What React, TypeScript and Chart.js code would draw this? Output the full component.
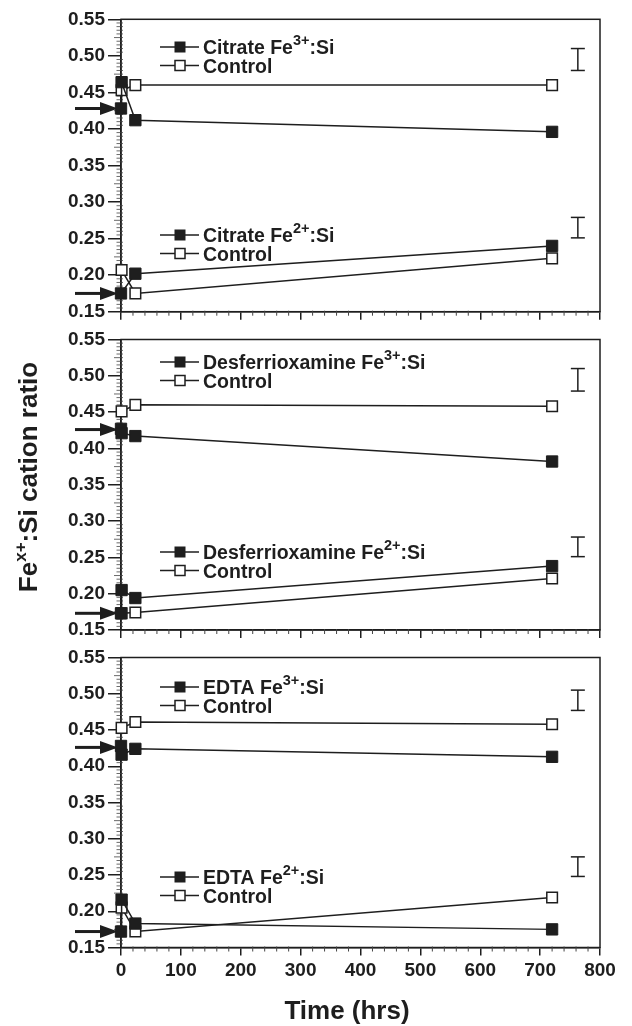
import React, { useEffect, useRef } from "react";
import { Chart, registerables } from "chart.js";

Chart.register(...registerables);

// ---------- data ----------
const TIMES = [0, 1, 24, 720]; // hrs (initial, ~1 h, 24 h, 720 h)
const CHELATORS = ["Citrate", "Desferrioxamine", "EDTA"];

const citrateFe3 = [0.428, 0.464, 0.412, 0.396];
const citrateFe3Control = [null, 0.453, 0.46, 0.46];
const citrateFe2 = [0.175, null, 0.202, 0.24];
const citrateFe2Control = [null, 0.207, 0.175, 0.223];

const desferFe3 = [0.427, 0.421, 0.417, 0.382];
const desferFe3Control = [null, 0.451, 0.46, 0.458];
const desferFe2 = [0.173, 0.205, 0.194, 0.238];
const desferFe2Control = [null, 0.173, 0.174, 0.221];

const edtaFe3 = [0.428, 0.416, 0.424, 0.413];
const edtaFe3Control = [null, 0.453, 0.461, 0.458];
const edtaFe2 = [0.172, 0.216, 0.183, 0.175];
const edtaFe2Control = [null, 0.205, 0.172, 0.219];

const INITIAL_FE3 = [0.428, 0.426, 0.426];
const INITIAL_FE2 = [0.175, 0.173, 0.172];

const ERR_X = 763;
const ERR_FE3 = [
  [0.48, 0.51],
  [0.479, 0.51],
  [0.477, 0.505],
];
const ERR_FE2 = [
  [0.251, 0.279],
  [0.251, 0.278],
  [0.248, 0.275],
];

const X_TICKS = [0, 100, 200, 300, 400, 500, 600, 700, 800];
const Y_TICK_LABELS = ["0.15", "0.20", "0.25", "0.30", "0.35", "0.40", "0.45", "0.50", "0.55"];

const PANEL_SERIES = [
  [citrateFe3, citrateFe3Control, citrateFe2, citrateFe2Control],
  [desferFe3, desferFe3Control, desferFe2, desferFe2Control],
  [edtaFe3, edtaFe3Control, edtaFe2, edtaFe2Control],
];

// ---------- layout ----------
const W = 632;
const H = 1026;
const PANEL_TOP = [19.3, 339.5, 657.5];
const PANEL_BOTTOM = [311.7, 630, 947.5];
const X_AXIS_BOX = [20, 20, 60];
const LEGEND_OFFSETS = [
  [27.7, 215.7],
  [22.5, 212.5],
  [29.5, 219.5],
];

const FONT = '"Liberation Sans", Arial, Helvetica, sans-serif';
const INK = "#1e1e1e";

type Part = { text: string; size: number; raise?: number };

function drawRich(ctx: CanvasRenderingContext2D, parts: Part[], x: number, y: number) {
  let cx = x;
  for (const p of parts) {
    ctx.font = `bold ${p.size}px ${FONT}`;
    ctx.fillText(p.text, cx, y - (p.raise || 0));
    cx += ctx.measureText(p.text).width;
  }
}
function richWidth(ctx: CanvasRenderingContext2D, parts: Part[]) {
  let w = 0;
  for (const p of parts) {
    ctx.font = `bold ${p.size}px ${FONT}`;
    w += ctx.measureText(p.text).width;
  }
  return w;
}

const decorPlugin = {
  id: "panelDecor",
  beforeDatasetsDraw(chart: any, _args: any, opts: any) {
    const { ctx, chartArea: a, scales } = chart;
    const xs = scales.x;
    const ys = scales.y;
    ctx.save();
    ctx.strokeStyle = INK;
    ctx.lineWidth = 1.5;
    ctx.strokeRect(a.left, a.top, a.right - a.left, a.bottom - a.top);
    // minor ticks
    ctx.lineWidth = 0.8;
    ctx.strokeStyle = "#444444";
    for (let i = 0; i <= 80; i++) {
      if (i % 10 === 0) continue;
      const py = ys.getPixelForValue(0.15 + i * 0.005);
      const len = i % 5 === 0 ? 7 : 4.5;
      ctx.beginPath();
      ctx.moveTo(a.left - len, py);
      ctx.lineTo(a.left + 2, py);
      ctx.stroke();
    }
    ctx.lineWidth = 1;
    for (let v = 20; v < 800; v += 20) {
      if (v % 100 === 0) continue;
      const px = xs.getPixelForValue(v);
      ctx.beginPath();
      ctx.moveTo(px, a.bottom - 1);
      ctx.lineTo(px, a.bottom + 4);
      ctx.stroke();
    }
    // arrows marking initial ratios
    ctx.strokeStyle = INK;
    ctx.fillStyle = INK;
    for (const v of opts.arrows as number[]) {
      const py = ys.getPixelForValue(v);
      ctx.lineWidth = 3;
      ctx.beginPath();
      ctx.moveTo(a.left - 46, py);
      ctx.lineTo(a.left - 16, py);
      ctx.stroke();
      ctx.beginPath();
      ctx.moveTo(a.left - 3, py);
      ctx.lineTo(a.left - 21, py - 6.5);
      ctx.lineTo(a.left - 21, py + 6.5);
      ctx.closePath();
      ctx.fill();
    }
    ctx.restore();
  },
  afterDatasetsDraw(chart: any, _args: any, opts: any) {
    const { ctx, chartArea: a } = chart;
    ctx.save();
    ctx.fillStyle = INK;
    ctx.strokeStyle = INK;
    ctx.textAlign = "left";
    ctx.textBaseline = "alphabetic";
    const name = opts.chelator as string;
    const blocks = [
      { off: opts.legend[0], ion: "3+" },
      { off: opts.legend[1], ion: "2+" },
    ];
    for (const b of blocks) {
      const rows = [
        { y: a.top + b.off, filled: true, parts: [
          { text: `${name} Fe`, size: 19.5 },
          { text: b.ion, size: 14.5, raise: 9.5 },
          { text: ":Si", size: 19.5 },
        ] },
        { y: a.top + b.off + 18.5, filled: false, parts: [{ text: "Control", size: 19.5 }] },
      ];
      for (const r of rows) {
        ctx.lineWidth = 1.5;
        ctx.beginPath();
        ctx.moveTo(a.left + 39, r.y);
        ctx.lineTo(a.left + 78, r.y);
        ctx.stroke();
        const mx = a.left + 59;
        if (r.filled) {
          ctx.fillRect(mx - 5.5, r.y - 5.5, 11, 11);
        } else {
          ctx.fillStyle = "#ffffff";
          ctx.fillRect(mx - 5, r.y - 5, 10, 10);
          ctx.strokeRect(mx - 5, r.y - 5, 10, 10);
          ctx.fillStyle = INK;
        }
        drawRich(ctx, r.parts, a.left + 82, r.y + 7);
      }
    }
    if (opts.yTitle) {
      const parts: Part[] = [
        { text: "Fe", size: 26 },
        { text: "x+", size: 17, raise: 11 },
        { text: ":Si cation ratio", size: 26 },
      ];
      const w = richWidth(ctx, parts);
      ctx.save();
      ctx.translate(28, 477);
      ctx.rotate(-Math.PI / 2);
      drawRich(ctx, parts, -w / 2, 9);
      ctx.restore();
    }
    if (opts.xTitle) {
      ctx.font = `bold 26px ${FONT}`;
      ctx.textAlign = "center";
      ctx.textBaseline = "middle";
      ctx.fillText("Time (hrs)", 347, 1012);
    }
    ctx.restore();
  },
};

function seriesDataset(values: (number | null)[], filled: boolean) {
  const data = TIMES.map((t, i) => ({ x: t, y: values[i] })).filter((p) => p.y !== null);
  return {
    data,
    showLine: true,
    borderColor: INK,
    borderWidth: 1.5,
    pointStyle: "rect",
    pointRadius: filled ? 8 : 7.5,
    pointHoverRadius: filled ? 8 : 7.5,
    pointBackgroundColor: filled ? INK : "#ffffff",
    pointBorderColor: INK,
    pointBorderWidth: filled ? 1 : 1.5,
    clip: false,
  };
}

function errDataset(range: number[]) {
  return {
    data: [
      { x: ERR_X, y: range[0] },
      { x: ERR_X, y: range[1] },
    ],
    showLine: true,
    borderColor: INK,
    borderWidth: 1.5,
    pointStyle: "line",
    pointRadius: 7,
    pointHoverRadius: 7,
    pointBorderColor: INK,
    pointBorderWidth: 1.5,
    clip: false,
  };
}

function makeConfig(idx: number): any {
  const last = idx === 2;
  const tickFont = { family: FONT, size: 19, weight: "bold" as const };
  const [fe3, fe3c, fe2, fe2c] = PANEL_SERIES[idx];
  return {
    type: "scatter",
    data: {
      datasets: [
        seriesDataset(fe3, true),
        seriesDataset(fe3c, false),
        seriesDataset(fe2, true),
        seriesDataset(fe2c, false),
        errDataset(ERR_FE3[idx]),
        errDataset(ERR_FE2[idx]),
      ],
    },
    plugins: [decorPlugin],
    options: {
      animation: false,
      responsive: false,
      maintainAspectRatio: false,
      events: [],
      layout: {
        padding: { top: PANEL_TOP[idx], bottom: H - PANEL_BOTTOM[idx] - X_AXIS_BOX[idx], left: 0, right: 32 },
      },
      plugins: {
        legend: { display: false },
        tooltip: { enabled: false },
        panelDecor: {
          chelator: CHELATORS[idx],
          legend: LEGEND_OFFSETS[idx],
          arrows: [INITIAL_FE3[idx], INITIAL_FE2[idx]],
          yTitle: idx === 1,
          xTitle: last,
        },
      },
      scales: {
        x: {
          type: "linear",
          min: 0,
          max: 800,
          afterBuildTicks: (s: any) => {
            s.ticks = X_TICKS.map((v) => ({ value: v }));
          },
          afterFit: (s: any) => {
            s.height = X_AXIS_BOX[idx];
          },
          ticks: {
            display: last,
            font: tickFont,
            color: INK,
            padding: 4,
            maxRotation: 0,
            autoSkip: false,
            callback: (v: any) => String(v),
          },
          grid: { drawOnChartArea: false, drawTicks: true, tickLength: 8, color: INK, lineWidth: 1.5 },
          border: { display: true, color: INK, width: 1.5 },
        },
        y: {
          type: "linear",
          min: 0.15,
          max: 0.55,
          afterBuildTicks: (s: any) => {
            s.ticks = Y_TICK_LABELS.map((l) => ({ value: parseFloat(l) }));
          },
          afterFit: (s: any) => {
            s.width = 121;
          },
          ticks: {
            font: tickFont,
            color: INK,
            padding: 3,
            autoSkip: false,
            callback: (v: any) => Number(v).toFixed(2),
          },
          grid: { drawOnChartArea: false, drawTicks: true, tickLength: 13, color: INK, lineWidth: 1.5 },
          border: { display: true, color: INK, width: 1.5 },
        },
      },
    },
  };
}

function Panel({ idx }: { idx: number }) {
  const ref = useRef<HTMLCanvasElement | null>(null);
  useEffect(() => {
    if (!ref.current) return;
    const chart = new Chart(ref.current, makeConfig(idx));
    return () => chart.destroy();
  }, [idx]);
  return (
    <canvas
      ref={ref}
      width={W}
      height={H}
      style={{ position: "absolute", left: 0, top: 0, width: W, height: H, pointerEvents: "none" }}
    />
  );
}

export default function App() {
  return (
    <div style={{ position: "absolute", left: 0, top: 0, width: W, height: H, background: "#ffffff" }}>
      <Panel idx={0} />
      <Panel idx={1} />
      <Panel idx={2} />
    </div>
  );
}
